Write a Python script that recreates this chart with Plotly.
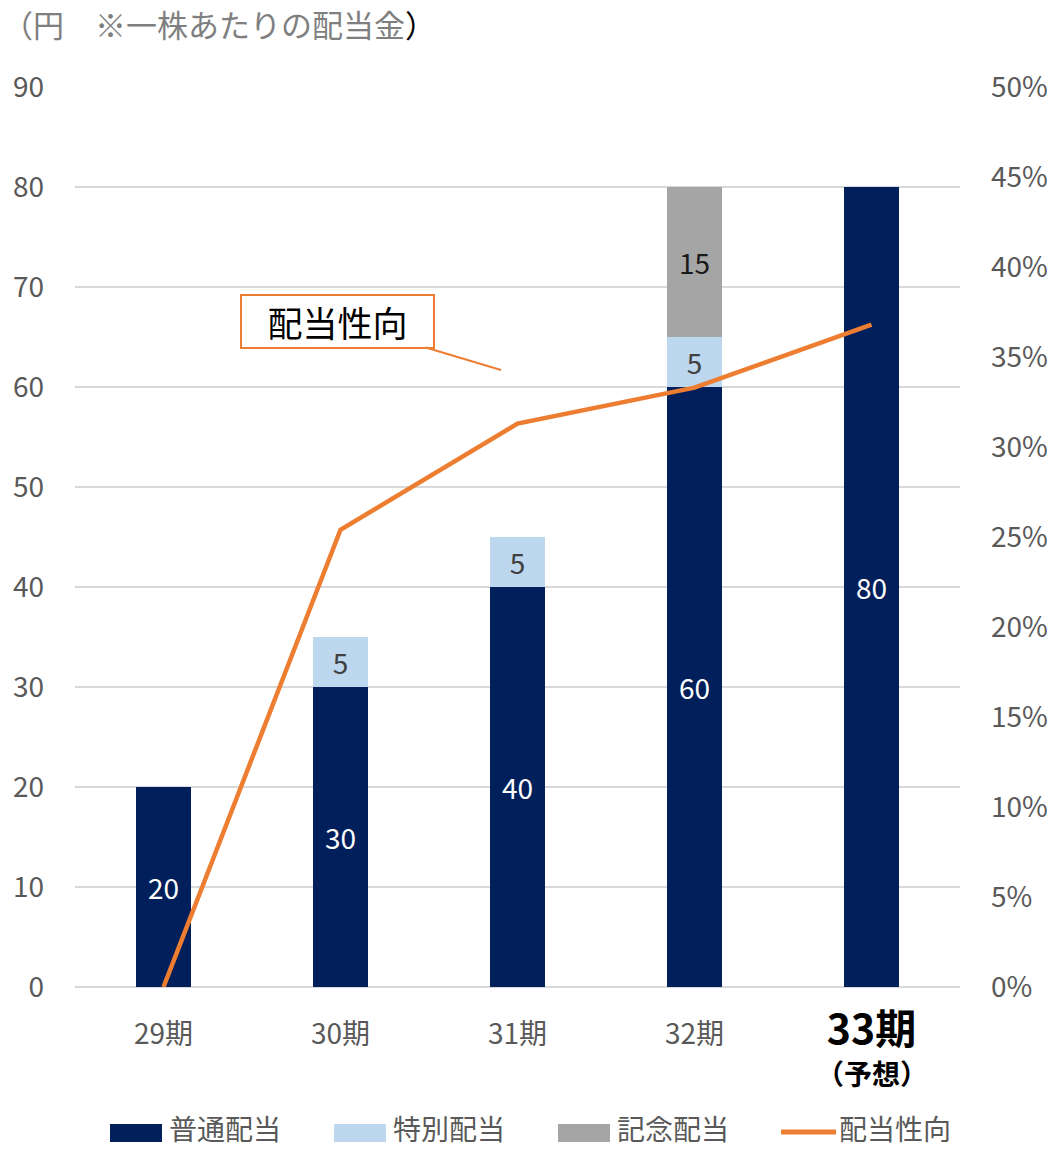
import plotly.graph_objects as go

categories = ["29期", "30期", "31期", "32期", "33期"]
tick_labels = ["29期", "30期", "31期", "32期",
               "<b><span style='font-size:41px;color:#000000'>33期</span></b>"]
forecast_note = "（予想）"
series_names = ["普通配当", "特別配当", "記念配当", "配当性向"]
regular = [20, 30, 40, 60, 80]
special = [None, 5, 5, 5, None]
commemorative = [None, None, None, 15, None]
payout_ratio = [0.0, 25.4, 31.3, 33.3, 36.8]

FONT = "Noto Sans CJK JP"
GREY = "#595959"
NAVY = "#001F5B"
LIGHT = "#BDD7EE"
GRAY_BAR = "#A5A5A5"
ORANGE = "#ED7D31"
colors = [NAVY, LIGHT, GRAY_BAR, ORANGE]

# plot area geometry (pixels) for paper-coordinate helpers
L, R, T, B = 75, 960, 87, 987
PW, PH = R - L, B - T
def px(x): return (x - L) / PW
def py(y): return (B - y) / PH

fig = go.Figure()
fig.add_trace(go.Bar(x=categories, y=regular, name=series_names[0], marker_color=NAVY,
                     marker_line_width=0,
                     text=regular, textposition="inside", insidetextanchor="middle",
                     textfont=dict(color="white", size=28, family=FONT)))
fig.add_trace(go.Bar(x=categories, y=special, name=series_names[1], marker_color=LIGHT,
                     marker_line_width=0,
                     text=special, textposition="inside", insidetextanchor="middle",
                     textfont=dict(color="#404040", size=28, family=FONT)))
fig.add_trace(go.Bar(x=categories, y=commemorative, name=series_names[2], marker_color=GRAY_BAR,
                     marker_line_width=0,
                     text=commemorative, textposition="inside", insidetextanchor="middle",
                     textfont=dict(color="#1a1a1a", size=28, family=FONT)))
fig.add_trace(go.Scatter(x=categories, y=payout_ratio, name=series_names[3], mode="lines",
                         line=dict(color=ORANGE, width=4.5), yaxis="y2"))

# custom legend (swatches + labels)
legend_x = [110, 334, 558, 781]
shapes = []
annotations = []
for i, (name, c) in enumerate(zip(series_names, colors)):
    x0 = legend_x[i]
    if i < 3:
        shapes.append(dict(type="rect", xref="paper", yref="paper",
                           x0=px(x0), x1=px(x0 + 52), y0=py(1142), y1=py(1124),
                           fillcolor=c, line_width=0))
    else:
        shapes.append(dict(type="line", xref="paper", yref="paper",
                           x0=px(x0), x1=px(x0 + 55), y0=py(1132), y1=py(1132),
                           line=dict(color=c, width=5)))
    annotations.append(dict(text=name, xref="paper", yref="paper",
                            x=px(x0 + (57 if i < 3 else 56)), y=py(1128),
                            xanchor="left", yanchor="middle", showarrow=False,
                            font=dict(size=28, color=GREY, family=FONT)))

annotations += [
    dict(text="（円　※一株あたりの配当金<span style='color:#000000'>）</span>",
         xref="paper", yref="paper", x=px(0), y=py(24),
         xanchor="left", yanchor="middle", showarrow=False,
         font=dict(size=31, color="#7F7F7F", family=FONT)),
    dict(text="<b>" + forecast_note + "</b>", xref="x", yref="paper",
         x=categories[4], y=py(1073), xanchor="center", yanchor="middle",
         showarrow=False, font=dict(size=28, color="#000000", family=FONT)),
    dict(text="配当性向", xref="x", yref="y", x=1.907, y=61.7,
         ax=-164, ay=-49, showarrow=True, arrowhead=0, arrowwidth=2,
         arrowcolor=ORANGE, standoff=0,
         bordercolor=ORANGE, borderwidth=2, bgcolor="white",
         width=189, height=49,
         font=dict(size=35, color="#000000", family=FONT)),
]

fig.update_layout(
    width=1051, height=1149,
    margin=dict(l=L, r=1051 - R, t=T, b=1149 - B),
    paper_bgcolor="white", plot_bgcolor="white",
    barmode="stack", bargap=0.69,
    font=dict(family=FONT, color=GREY, size=24),
    showlegend=False,
    xaxis=dict(tickmode="array", tickvals=categories, ticktext=tick_labels,
               showgrid=False, showline=False, ticks="", ticklabelstandoff=28,
               automargin=False,
               tickfont=dict(size=28, color=GREY, family=FONT)),
    yaxis=dict(range=[0, 90], dtick=10, showgrid=True, gridcolor="#D9D9D9", gridwidth=2,
               zeroline=True, zerolinecolor="#D9D9D9", zerolinewidth=2,
               ticklabelstandoff=30, automargin=False,
               tickfont=dict(size=28, color=GREY, family=FONT)),
    yaxis2=dict(range=[0, 50], dtick=5, overlaying="y", side="right", showgrid=False,
                zeroline=False, ticksuffix="%", ticklabelstandoff=30, automargin=False,
                tickfont=dict(size=28, color=GREY, family=FONT)),
    shapes=shapes,
    annotations=annotations,
)

fig.write_html("out.html")
